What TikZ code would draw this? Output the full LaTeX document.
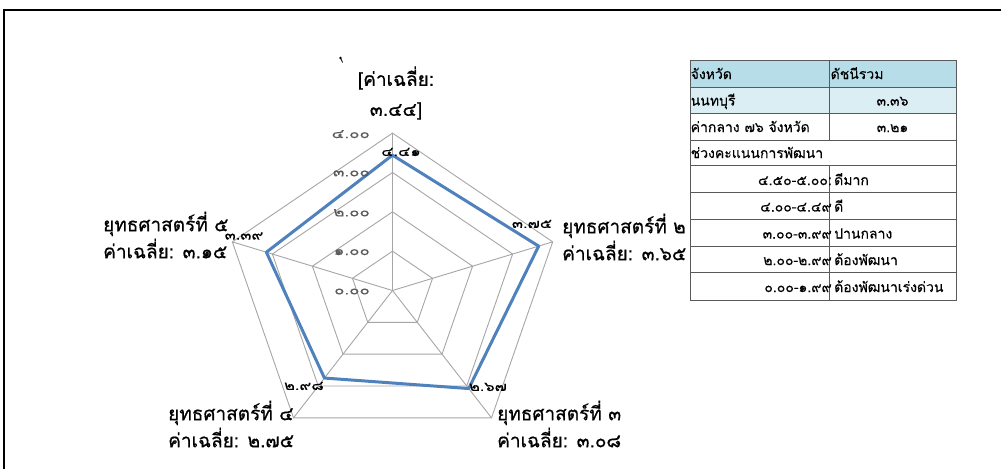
\documentclass[tikz,border=0pt]{standalone}
\usepackage{fontspec}
\setmainfont[Script=Thai]{Loma}
\newfontfamily\thaimed[Script=Thai,FakeBold=0.6]{Loma}
\newfontfamily\thailt[Script=Thai,FakeBold=0.3]{Loma}
\newfontfamily\thaiwide[Script=Thai,FakeBold=0.5,FakeStretch=1.25]{Loma}
\newfontfamily\thaiwidelt[Script=Thai,FakeBold=0.2,FakeStretch=1.3]{Loma}
\usetikzlibrary{calc}
\definecolor{gridc}{HTML}{A6A6A6}
\definecolor{serc}{HTML}{4F81BD}
\definecolor{hdr}{HTML}{B7DDE8}
\definecolor{rowtwo}{HTML}{DAEEF3}
\definecolor{tblc}{HTML}{595959}
\definecolor{axc}{HTML}{595959}
\begin{document}
\begin{tikzpicture}[x=1pt,y=-1pt,
  grid/.style={draw=gridc,line width=0.9pt},
  series/.style={draw=serc,line width=3pt,line join=round},
  axlbl/.style={font=\thaiwidelt\fontsize{13}{13}\selectfont,text=axc,inner sep=0pt},
  datalbl/.style={font=\thaiwide\fontsize{13}{13}\selectfont,inner sep=0pt},
  catlbl/.style={font=\thaimed\fontsize{19}{27}\selectfont,align=left,inner sep=0pt},
  tbl/.style={draw=tblc,line width=0.8pt},
  ttxt/.style={font=\thailt\fontsize{14}{14}\selectfont,inner sep=0pt}]
\useasboundingbox (0,0) rectangle (1001,469);
\fill[white] (0,0) rectangle (1001,469);
\draw[line width=2pt] (1001,9.5) -- (3.5,9.5) -- (3.5,469);

% radar grid
\coordinate (C) at (392.5,290.5);
\foreach \k in {0,...,4}{\foreach \i in {1,...,4}{
  \coordinate (g\k-\i) at ({392.5+1.07*39.35*\i*cos(90-72*\k)},{290.5-39.35*\i*sin(90-72*\k)});}}
\foreach \i in {1,...,4} \draw[grid] (g0-\i) -- (g1-\i) -- (g2-\i) -- (g3-\i) -- (g4-\i) -- cycle;
\foreach \k in {0,...,4} \draw[grid] (C) -- (g\k-4);

% series
\foreach \k/\v in {0/3.44,1/3.65,2/3.08,3/2.75,4/3.15}
  \coordinate (d\k) at ({392.5+1.07*39.35*\v*cos(90-72*\k)},{290.5-39.35*\v*sin(90-72*\k)});
\draw[series] (d0) -- (d1) -- (d2) -- (d3) -- (d4) -- cycle;

% axis labels
\foreach \i/\t in {0/๐.๐๐,1/๑.๐๐,2/๒.๐๐,3/๓.๐๐,4/๔.๐๐}
  \node[axlbl,anchor=east] (ax\i) at (370,{290.5-39.35*\i+1}) {\t};

% data labels
\node[datalbl] (l0) at (401,152) {๔.๔๑};
\node[datalbl] (l1) at (532,224) {๓.๗๕};
\node[datalbl] (l2) at (488,387) {๒.๖๗};
\node[datalbl] (l3) at (304,386) {๒.๙๘};
\node[datalbl] (l4) at (244,236) {๓.๓๙};

% category labels
\node[catlbl,anchor=west] (c5) at (103,235) {ยุทธศาสตร์ที่ ๕\\ค่าเฉลี่ย: ๓.๑๕};
\node[catlbl,anchor=west] (c2) at (562,237) {ยุทธศาสตร์ที่ ๒\\ค่าเฉลี่ย: ๓.๖๕};
\node[catlbl,anchor=west] (c4) at (168,424) {ยุทธศาสตร์ที่ ๔\\ค่าเฉลี่ย: ๒.๗๕};
\node[catlbl,anchor=west] (c3) at (497,424) {ยุทธศาสตร์ที่ ๓\\ค่าเฉลี่ย: ๓.๐๘};
\node[catlbl,align=center,font=\thaimed\fontsize{19}{30}\selectfont] (c1) at (396,93) {[ค่าเฉลี่ย:\\๓.๔๔]};
\fill (340.5,58) circle (1.3);
\draw[line width=0.8pt] (340.8,58.5) -- (342.6,62.5);

% table
\fill[hdr] (690,60) rectangle (956,87);
\fill[rowtwo] (690,87) rectangle (956,113.5);
\draw[tbl] (690,60) rectangle (956,300);
\foreach \y in {87,113.5,140,165.5,192.5,219,246,272.5} \draw[tbl] (690,\y) -- (956,\y);
\draw[tbl] (829.5,60) -- (829.5,140);
\draw[tbl] (829.5,165.5) -- (829.5,300);

\node[ttxt,anchor=base west] (t11) at (690.5,79) {จังหวัด};
\node[ttxt,anchor=base west] (t12) at (830.5,79) {ดัชนีรวม};
\node[ttxt,anchor=base west] (t21) at (690.5,105.5) {นนทบุรี};
\node[ttxt,anchor=base] (t22) at (892.5,105.5) {๓.๓๖};
\node[ttxt,anchor=base west] (t31) at (690.5,132) {ค่ากลาง ๗๖ จังหวัด};
\node[ttxt,anchor=base] (t32) at (892.5,132) {๓.๒๑};
\node[ttxt,anchor=base west] (t41) at (690.5,158) {ช่วงคะแนนการพัฒนา};
\foreach \n/\y/\a/\b in {5/185/๔.๕๐-๕.๐๐:/ดีมาก,6/211.5/๔.๐๐-๔.๔๙/ดี,7/238.5/๓.๐๐-๓.๙๙/ปานกลาง,8/265/๒.๐๐-๒.๙๙/ต้องพัฒนา,9/292/๐.๐๐-๑.๙๙/ต้องพัฒนาเร่งด่วน}{
  \node[ttxt,anchor=base east] (t\n a) at (832,\y) {\a};
  \node[ttxt,anchor=base west] (t\n b) at (834,\y) {\b};
}
\end{tikzpicture}
\end{document}
